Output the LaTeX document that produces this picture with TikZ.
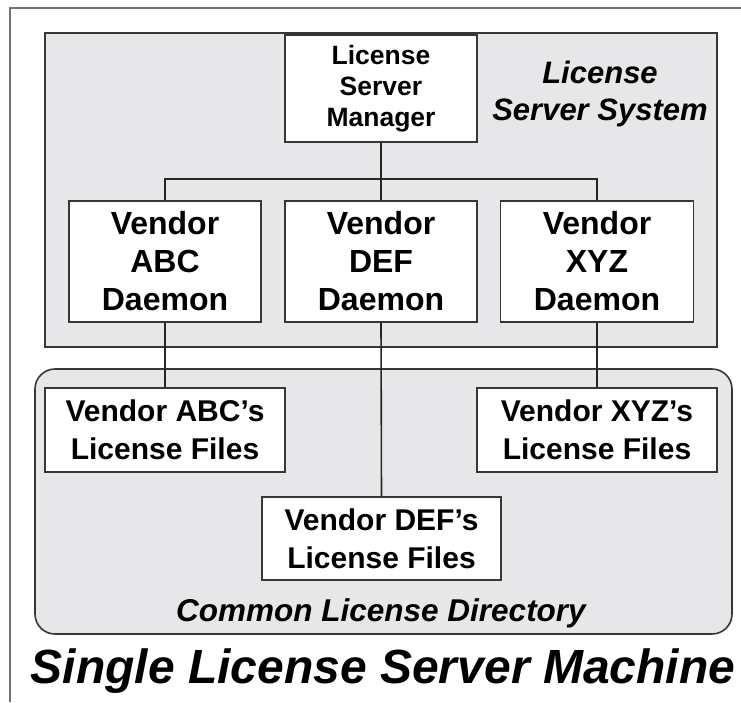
\documentclass[tikz,border=0pt]{standalone}
\usepackage{fontspec}
\setmainfont{Liberation Sans}
\definecolor{panel}{RGB}{231,231,233}
\definecolor{edge}{RGB}{55,55,55}
\definecolor{frame}{RGB}{115,115,115}
\tikzset{
  panelbox/.style={draw=edge, line width=1.6pt, fill=panel},
  whitebox/.style={draw=edge, line width=1.6pt, fill=white, align=center, inner sep=0pt, font=\bfseries\fontsize{30}{38}\selectfont},
  daemonbox/.style={whitebox, font=\bfseries\fontsize{32}{38}\selectfont},
  smallbox/.style={whitebox, font=\bfseries\fontsize{26.5}{31}\selectfont},
  wire/.style={draw=black!85, line width=1.6pt},
  lbl/.style={font=\bfseries\itshape\fontsize{31}{37}\selectfont, align=center, inner sep=0pt}
}
\begin{document}
\begin{tikzpicture}[x=1pt,y=-1pt]
\useasboundingbox (0,0) rectangle (741,702);
% outer frame (cut at right and bottom)
\draw[frame, line width=2.6pt] (10,702) -- (10,8) -- (741,8);
% panels
\node[panelbox, minimum width=672, minimum height=314, inner sep=0pt] (lss) at (381,190) {};
\node[panelbox, rounded corners=20pt, minimum width=697, minimum height=265, inner sep=0pt] (cld) at (383.5,501.5) {};
% labels in panels
\node[lbl] (lsslbl) at (600,94) {License\\Server System};
\node[lbl, font=\bfseries\itshape\fontsize{31.5}{37}\selectfont] (cldlbl) at (381,613) {Common License Directory};
% boxes
\coordinate (bus) at (381,179);
\node[smallbox, minimum width=192, minimum height=107] (lsm) at (381,88.5) {License\\Server\\Manager};
\node[daemonbox, minimum width=192, minimum height=121] (dabc) at (165,261.5) {Vendor\\ABC\\Daemon};
\node[daemonbox, minimum width=192, minimum height=121] (ddef) at (381,261.5) {Vendor\\DEF\\Daemon};
\node[daemonbox, minimum width=193, minimum height=121] (dxyz) at (597,261.5) {Vendor\\XYZ\\Daemon};
\node[whitebox, minimum width=240, minimum height=84] (fabc) at (165,430) {Vendor ABC's\\License Files};
\node[whitebox, minimum width=240, minimum height=84] (fxyz) at (597,430) {Vendor XYZ's\\License Files};
\node[whitebox, minimum width=239, minimum height=83] (fdef) at (381.5,538.5) {Vendor DEF's\\License Files};
% connectors
\draw[wire] (lsm.south) -- (bus);
\draw[wire] (dabc.north) |- (bus) -| (dxyz.north);
\draw[wire] (bus) -- (ddef.north);
\draw[wire] (dabc.south) -- (fabc.north);
\draw[wire] (ddef.south) -- (fdef.north);
\draw[wire] (dxyz.south) -- (fxyz.north);
% title
\node[font=\bfseries\itshape\fontsize{48}{56}\selectfont, inner sep=0pt, anchor=base] (title) at (383,683) {Single License Server Machine};
\end{tikzpicture}
\end{document}
